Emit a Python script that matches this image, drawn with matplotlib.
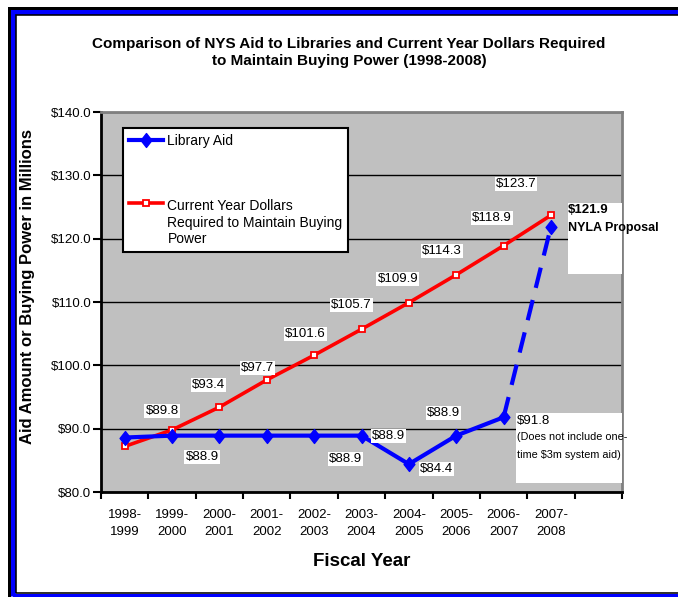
import matplotlib
matplotlib.use('Agg')
import matplotlib.pyplot as plt
import numpy as np
from matplotlib.patches import Rectangle
from matplotlib.path import Path
from matplotlib.legend_handler import HandlerLine2D

plt.rcParams['font.family'] = ['Liberation Sans', 'DejaVu Sans']

# ---------------- data ----------------
fiscal_years = ['1998-\n1999', '1999-\n2000', '2000-\n2001', '2001-\n2002', '2002-\n2003',
                '2003-\n2004', '2004-\n2005', '2005-\n2006', '2006-\n2007', '2007-\n2008']
library_aid = [88.6, 88.9, 88.9, 88.9, 88.9, 88.9, 84.4, 88.9, 91.8, 121.9]
required_dollars = [87.2, 89.8, 93.4, 97.7, 101.6, 105.7, 109.9, 114.3, 118.9, 123.7]
aid_labels = ['', '$88.9', '', '', '$88.9', '$88.9', '$84.4', '$88.9', '', '']
required_labels = ['', '$89.8', '$93.4', '$97.7', '$101.6', '$105.7', '$109.9',
                   '$114.3', '$118.9', '$123.7']
y_ticks = [80, 90, 100, 110, 120, 130, 140]

title = ('Comparison of NYS Aid to Libraries and Current Year Dollars Required\n'
         'to Maintain Buying Power (1998-2008)')
series_names = ['Library Aid', 'Current Year Dollars\nRequired to Maintain Buying\nPower']

# ---------------- layout helpers (pixels) ----------------
W, H = 678, 597
AX_L, AX_R, AX_T, AX_B = 101, 622, 112, 492


def fx(x):
    return x / W


def fy(y):
    return 1 - y / H


def axx(x):
    return (x - AX_L) / (AX_R - AX_L)


def axy(y):
    return (AX_B - y) / (AX_B - AX_T)


PX = 72 / 100  # pixels -> points

# label offsets in pixels (dx, dy up)
aid_offsets = {1: (30, -21), 4: (31, -23), 5: (27, 0), 6: (28, -5), 7: (-13, 23)}
req_offsets = {1: (-10, 19), 2: (-11, 22), 3: (-9, 12), 4: (-9, 21), 5: (-10, 24),
               6: (-11, 24), 7: (-14, 24), 8: (-12, 28), 9: (-35, 31)}

fig = plt.figure(figsize=(W / 100, H / 100), dpi=100)

# ---------------- outer frame ----------------
def frame(L, T, B, lw_px, color):
    r = Rectangle((fx(L), fy(B)), fx(760) - fx(L), fy(T) - fy(B), transform=fig.transFigure,
                  fill=False, edgecolor=color, linewidth=lw_px * PX, zorder=10)
    fig.add_artist(r)


frame(8.5, 7.5, 600, 3, 'black')
frame(12.5, 11.5, 596, 5, '#0000FF')
frame(15.5, 14.5, 593, 1.6, 'black')

# ---------------- axes ----------------
ax = fig.add_axes([fx(AX_L), fy(AX_B), fx(AX_R) - fx(AX_L), fy(AX_T) - fy(AX_B)])
ax.set_facecolor('#C0C0C0')
x = np.arange(len(fiscal_years))

diamond = Path([(0, 1), (0.78, 0), (0, -1), (-0.78, 0), (0, 1)],
               [Path.MOVETO, Path.LINETO, Path.LINETO, Path.LINETO, Path.CLOSEPOLY])

req_line, = ax.plot(x, required_dollars, color='#FF0000', lw=2.6, marker='s', ms=5,
                    mfc='white', mec='#FF0000', mew=1.3, zorder=3)
aid_line, = ax.plot(x[:9], library_aid[:9], color='#0000FF', lw=3.0, marker=diamond, ms=10,
                    mfc='#0000FF', mec='#0000FF', zorder=4)
ax.plot(x[8:10], library_aid[8:10], color='#0000FF', lw=3.0, ls=(0, (5, 3)), marker=diamond,
        ms=10, markevery=[1], mfc='#0000FF', mec='#0000FF', zorder=4)

ax.set_xlim(-0.5, 10.5)
ax.set_ylim(80, 140)
ax.set_yticks(y_ticks)
ax.set_yticklabels(['$%.1f' % v for v in y_ticks])
ax.tick_params(axis='y', length=6, width=1.5, pad=1, labelsize=9.5, direction='out')

ax.set_xticks(np.arange(-0.5, 11, 1))
ax.set_xticks(x, minor=True)
ax.set_xticklabels(fiscal_years, minor=True)
ax.tick_params(axis='x', which='major', length=5, width=1.5, labelbottom=False, direction='out')
ax.tick_params(axis='x', which='minor', length=0, pad=12, labelsize=9.5)
for t in ax.get_xticklabels(minor=True):
    t.set_linespacing(1.6)

ax.yaxis.grid(True, color='black', lw=1)
ax.set_axisbelow(True)
for s in ['left', 'bottom']:
    ax.spines[s].set_color('black')
    ax.spines[s].set_linewidth(2)
for s in ['top', 'right']:
    ax.spines[s].set_color('#808080')
    ax.spines[s].set_linewidth(2)

# ---------------- data labels ----------------
box = dict(boxstyle='square,pad=0.08', fc='white', ec='none')
for i, (v, lab) in enumerate(zip(required_dollars, required_labels)):
    if lab and i in req_offsets:
        dx, dy = req_offsets[i]
        ax.annotate(lab, xy=(i, v), xytext=(dx * PX, dy * PX), textcoords='offset points',
                    ha='center', va='center', fontsize=9.5, bbox=box, zorder=6)
for i, (v, lab) in enumerate(zip(library_aid, aid_labels)):
    if lab and i in aid_offsets:
        dx, dy = aid_offsets[i]
        ax.annotate(lab, xy=(i, v), xytext=(dx * PX, dy * PX), textcoords='offset points',
                    ha='center', va='center', fontsize=9.5, bbox=box, zorder=6)

# special annotation boxes
ax.add_patch(Rectangle((axx(568), axy(274)), 1, axy(203) - axy(274), transform=ax.transAxes,
                       fc='white', ec='none', zorder=5, clip_on=True))
ax.add_patch(Rectangle((axx(516), axy(483)), 1, axy(413) - axy(483), transform=ax.transAxes,
                       fc='white', ec='none', zorder=5, clip_on=True))
ax.text(axx(568), axy(210), '$%.1f' % library_aid[9], transform=ax.transAxes, fontsize=9.5,
        fontweight='bold', ha='left', va='center', clip_on=False, zorder=6)
ax.text(axx(568), axy(228), 'NYLA Proposal', transform=ax.transAxes, fontsize=9,
        fontweight='bold', ha='left', va='center', clip_on=False, zorder=6)
ax.text(axx(517), axy(421), '$%.1f' % library_aid[8], transform=ax.transAxes, fontsize=9.5,
        ha='left', va='center', clip_on=False, zorder=6)
ax.text(axx(517), axy(437), '(Does not include one-', transform=ax.transAxes, fontsize=7.8,
        ha='left', va='center', clip_on=False, zorder=6)
ax.text(axx(517), axy(455), 'time $3m system aid)', transform=ax.transAxes, fontsize=7.8,
        ha='left', va='center', clip_on=False, zorder=6)


# ---------------- legend ----------------
class ShiftedHandler(HandlerLine2D):
    def __init__(self, shift=0.0, **kw):
        super().__init__(**kw)
        self.shift = shift

    def create_artists(self, legend, orig_handle, xdescent, ydescent, width, height,
                       fontsize, trans):
        return super().create_artists(legend, orig_handle, xdescent, ydescent - 2 * self.shift,
                                      width, height, fontsize, trans)


leg = ax.legend([aid_line, req_line], series_names, loc='upper left',
                bbox_to_anchor=(axx(123), axy(128)), borderaxespad=0, fontsize=10,
                labelspacing=3.7, handlelength=2.5, handletextpad=0.3, borderpad=0.4,
                fancybox=False, framealpha=1, edgecolor='black',
                handler_map={req_line: ShiftedHandler(shift=15)})
leg.get_frame().set_linewidth(1.5)
leg.set_zorder(7)
for t in leg.get_texts():
    t.set_linespacing(1.25)

# ---------------- titles ----------------
fig.text(fx(349), fy(52.5), title, ha='center', va='center', fontsize=11, fontweight='bold',
         linespacing=1.35)
fig.text(fx(28), fy(286), 'Aid Amount or Buying Power in Millions', rotation=90,
         ha='center', va='center', fontsize=12, fontweight='bold')
fig.text(fx(362), fy(562), 'Fiscal Year', ha='center', va='center', fontsize=13.5,
         fontweight='bold')

fig.savefig('out.png', dpi=100)
